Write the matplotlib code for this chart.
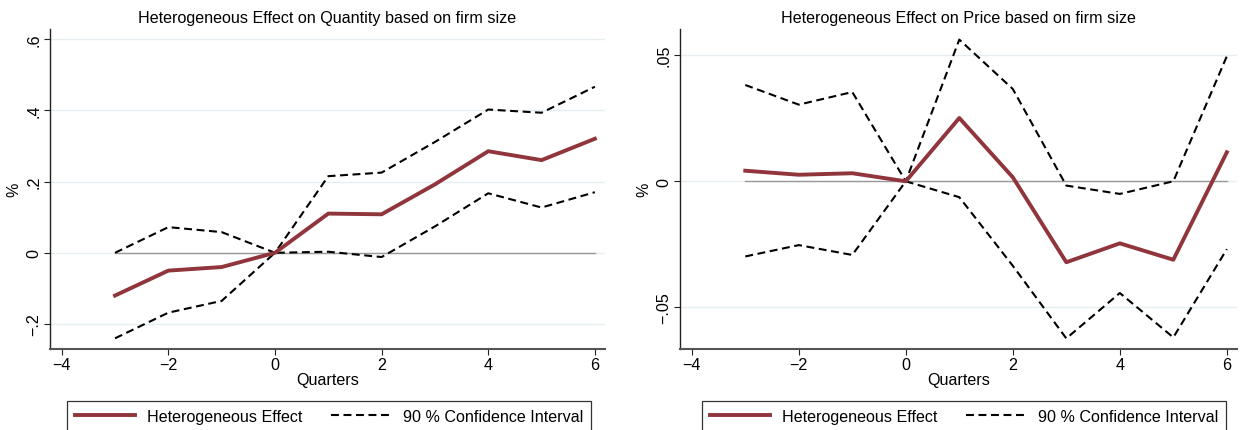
import matplotlib
matplotlib.use("Agg")
import matplotlib.pyplot as plt
from matplotlib.lines import Line2D

quarters = [-3, -2, -1, 0, 1, 2, 3, 4, 5, 6]

qty_effect = [-0.120, -0.050, -0.040, 0.000, 0.110, 0.108, 0.192, 0.285, 0.260, 0.320]
qty_upper = [0.000, 0.072, 0.058, 0.000, 0.215, 0.225, 0.311, 0.402, 0.393, 0.466]
qty_lower = [-0.240, -0.168, -0.135, 0.000, 0.003, -0.012, 0.074, 0.167, 0.127, 0.170]

price_effect = [0.0042, 0.0026, 0.0032, 0.0000, 0.0251, 0.0016, -0.0321, -0.0246, -0.0311, 0.0115]
price_upper = [0.0382, 0.0304, 0.0354, 0.0000, 0.0562, 0.0366, -0.0017, -0.0050, 0.0000, 0.0496]
price_lower = [-0.0298, -0.0253, -0.0292, 0.0000, -0.0063, -0.0335, -0.0623, -0.0443, -0.0619, -0.0269]

x_ticks = [-4, -2, 0, 2, 4, 6]
x_ticklabels = ["\u22124", "\u22122", "0", "2", "4", "6"]
qty_yticks = [-0.2, 0.0, 0.2, 0.4, 0.6]
qty_yticklabels = ["\u2212.2", "0", ".2", ".4", ".6"]
price_yticks = [-0.05, 0.0, 0.05]
price_yticklabels = ["\u2212.05", "0", ".05"]

titles = ["Heterogeneous Effect on Quantity based on firm size",
          "Heterogeneous Effect on Price based on firm size"]
legend_labels = ["Heterogeneous Effect", "90 % Confidence Interval"]

plt.rcParams['font.family'] = ['Liberation Sans', 'DejaVu Sans']
FS = 11.6

EFFECT_COLOR = "#90353B"
GRID_COLOR = "#E6EEF1"
ZERO_COLOR = "#9A9A9A"
EFF_LW = 2.8
CI_LW = 1.5
CI_DASH = (3.8, 2.2)

fig = plt.figure(figsize=(12.41, 4.31), dpi=100)
W, H = 1241, 431

panels = [
    dict(rect=(50, 350, 555, 320), effect=qty_effect, upper=qty_upper, lower=qty_lower,
         yticks=qty_yticks, yticklabels=qty_yticklabels, ylim=(-0.270, 0.628), title=titles[0],
         legend_x=67),
    dict(rect=(680, 350, 557, 320), effect=price_effect, upper=price_upper, lower=price_lower,
         yticks=price_yticks, yticklabels=price_yticklabels, ylim=(-0.0665, 0.0604), title=titles[1],
         legend_x=702),
]

for p in panels:
    x0, ybot, w, h = p["rect"]
    ax = fig.add_axes([x0 / W, (H - ybot) / H, w / W, h / H])
    ax.set_xlim(-4.22, 6.19)
    ax.set_ylim(*p["ylim"])
    for yt in p["yticks"]:
        ax.axhline(yt, color=GRID_COLOR, lw=1.0, zorder=0)
    ax.plot(quarters, [0] * len(quarters), color=ZERO_COLOR, lw=1.0, zorder=1)
    ax.plot(quarters, p["upper"], color="black", lw=CI_LW, dashes=CI_DASH, zorder=2)
    ax.plot(quarters, p["lower"], color="black", lw=CI_LW, dashes=CI_DASH, zorder=2)
    ax.plot(quarters, p["effect"], color=EFFECT_COLOR, lw=EFF_LW, zorder=3)

    ax.spines['top'].set_visible(False)
    ax.spines['right'].set_visible(False)
    ax.spines['left'].set_color("#222222")
    ax.spines['bottom'].set_color("#555555")
    ax.spines['left'].set_linewidth(1.0)
    ax.spines['bottom'].set_linewidth(1.5)

    ax.set_xticks(x_ticks)
    ax.set_xticklabels(x_ticklabels, fontsize=FS)
    ax.set_yticks(p["yticks"])
    ax.set_yticklabels(p["yticklabels"], fontsize=FS, rotation=90, va='center')
    ax.tick_params(direction='out', length=4, width=0.8, color="#222222", pad=2)
    ax.set_xlabel("Quarters", fontsize=FS, labelpad=0)
    ax.set_ylabel("%", fontsize=FS, labelpad=4)
    ax.set_title(p["title"], fontsize=FS, pad=5)

    handles = [Line2D([], [], color=EFFECT_COLOR, lw=EFF_LW),
               Line2D([], [], color="black", lw=CI_LW, dashes=CI_DASH)]
    leg = fig.legend(handles, legend_labels, loc='upper left',
                     bbox_to_anchor=(p["legend_x"] / W, (H - 402) / H),
                     ncol=2, fontsize=FS, frameon=True, fancybox=False,
                     edgecolor="black", handlelength=3.7, handletextpad=0.75,
                     columnspacing=1.8, borderpad=0.5, borderaxespad=0)
    leg.get_frame().set_linewidth(0.9)

fig.savefig("out.png", dpi=100)
